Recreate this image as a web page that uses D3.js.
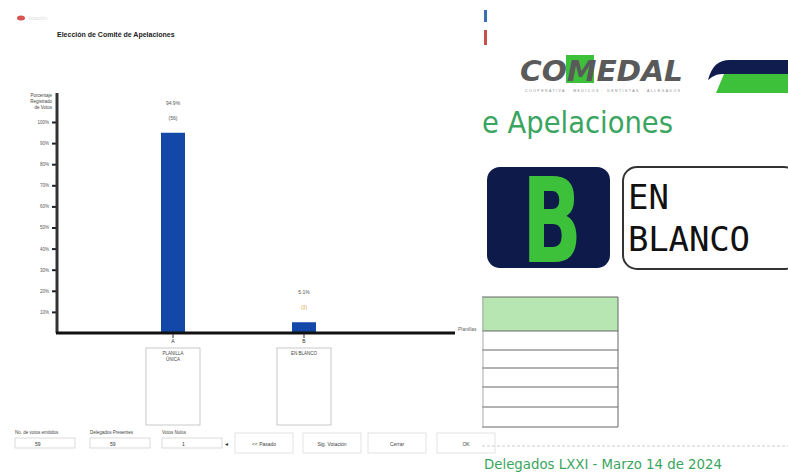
<!DOCTYPE html>
<html><head><meta charset="utf-8">
<script src="https://cdn.jsdelivr.net/npm/d3@7"></script>
<style>html,body{margin:0;padding:0;background:#fff;}svg{display:block;}</style>
</head><body>
<svg id="c" width="788" height="472"></svg>
<script>
const chartTitle = "Elección de Comité de Apelaciones";
const categories = ["A", "B"];
const categoryNames = [["PLANILLA", "ÚNICA"], ["EN BLANCO"]];
const percentages = [94.9, 5.1];
const votes = [56, 3];
const yTicks = [10, 20, 30, 40, 50, 60, 70, 80, 90, 100];
const yAxisTitle = ["Porcentaje", "Registrado", "de Votos"];
const xAxisTitle = "Planillas";
const fieldLabels = ["No. de votos emitidos", "Delegados Presentes", "Votos Nulos"];
const fieldValues = ["59", "59", "1"];
const buttonLabels = ["<< Pasado", "Sig. Votación", "Cerrar", "OK"];
const tableRows = 6;
const footerText = "Delegados LXXI - Marzo 14 de 2024";

const svg = d3.select("#c");
const F = "Liberation Sans, Arial, sans-serif";

// ---- left panel: chart ----
svg.append("ellipse").attr("cx", 21).attr("cy", 18).attr("rx", 4).attr("ry", 2.5).attr("fill", "#d9534f");
svg.append("text").attr("x", 28).attr("y", 20).attr("font-size", 5).attr("fill", "#ddd").attr("font-family", F).text("Votación");
svg.append("text").attr("x", 57).attr("y", 37).attr("font-size", 7).attr("font-weight", "bold")
  .attr("font-family", F).attr("fill", "#222").text(chartTitle);

const y = d3.scaleLinear().domain([0, 100]).range([333, 122]);
const x = d3.scalePoint().domain(categories).range([173, 304]);
const barW = 24;

const yAxis = svg.append("g").attr("transform", "translate(57,0)")
  .call(d3.axisLeft(y).tickValues(yTicks).tickSize(5).tickFormat(d => d + "%"));
yAxis.select(".domain").remove();
yAxis.selectAll(".tick line").attr("stroke", "#222").attr("stroke-width", 2);
yAxis.selectAll(".tick text").attr("font-size", 4.5).attr("fill", "#555").attr("font-family", F);
svg.append("line").attr("x1", 57).attr("x2", 57).attr("y1", 93).attr("y2", 333).attr("stroke", "#333").attr("stroke-width", 3);
yAxisTitle.forEach((t, i) => svg.append("text").attr("x", 52).attr("y", 97 + i * 6).attr("text-anchor", "end")
  .attr("font-size", 4.5).attr("font-family", F).attr("fill", "#444").text(t));

svg.selectAll("rect.bar").data(categories).join("rect").attr("class", "bar")
  .attr("x", d => x(d) - barW / 2).attr("width", barW)
  .attr("y", (d, i) => y(percentages[i])).attr("height", (d, i) => y(0) - y(percentages[i]))
  .attr("fill", "#1448a8");

categories.forEach((c, i) => {
  const top = y(percentages[i]);
  svg.append("text").attr("x", x(c)).attr("y", top - 28).attr("text-anchor", "middle").attr("font-size", 5)
    .attr("font-family", F).attr("fill", "#555").text(percentages[i].toFixed(1) + "%");
  svg.append("text").attr("x", x(c)).attr("y", top - 13).attr("text-anchor", "middle").attr("font-size", 5)
    .attr("font-family", F).attr("fill", i === 0 ? "#555" : "#e0a040").text("(" + votes[i] + ")");
});

svg.append("line").attr("x1", 56).attr("x2", 455).attr("y1", 333).attr("y2", 333).attr("stroke", "#111").attr("stroke-width", 3);
svg.append("text").attr("x", 458).attr("y", 331).attr("font-size", 5).attr("font-family", F).attr("fill", "#666").text(xAxisTitle);

categories.forEach((c, i) => {
  svg.append("line").attr("x1", x(c)).attr("x2", x(c)).attr("y1", 334).attr("y2", 338).attr("stroke", "#333");
  svg.append("text").attr("x", x(c)).attr("y", 343).attr("text-anchor", "middle").attr("font-size", 5)
    .attr("font-family", F).attr("fill", "#333").text(c);
  svg.append("rect").attr("x", x(c) - 27).attr("y", 348).attr("width", 54).attr("height", 77)
    .attr("fill", "none").attr("stroke", "#bbb").attr("stroke-width", 0.8);
  categoryNames[i].forEach((t, k) => svg.append("text").attr("x", x(c)).attr("y", 355 + k * 6).attr("text-anchor", "middle")
    .attr("font-size", 4.5).attr("font-family", F).attr("fill", "#444").text(t));
});

const fx = [15, 90, 162];
fieldLabels.forEach((t, i) => {
  svg.append("text").attr("x", fx[i]).attr("y", 434).attr("font-size", 4.5).attr("font-family", F).attr("fill", "#444").text(t);
  svg.append("rect").attr("x", fx[i]).attr("y", 438).attr("width", 60).attr("height", 10).attr("fill", "none").attr("stroke", "#ccc").attr("stroke-width", 0.7);
  svg.append("text").attr("x", fx[i] + 20).attr("y", 446).attr("font-size", 5).attr("font-family", F).attr("fill", "#333").text(fieldValues[i]);
});
svg.append("text").attr("x", 224).attr("y", 446).attr("font-size", 5).attr("font-family", F).attr("fill", "#333").text("◄");
const bx = [235, 303, 368, 437];
buttonLabels.forEach((t, i) => {
  svg.append("rect").attr("x", bx[i]).attr("y", 433).attr("width", 58).attr("height", 20).attr("fill", "#fff")
    .attr("stroke", "#ddd").attr("stroke-width", 0.8);
  svg.append("text").attr("x", bx[i] + 29).attr("y", 446).attr("text-anchor", "middle").attr("font-size", 5)
    .attr("font-family", F).attr("fill", "#444").text(t);
});

// ---- right panel: slide ----
svg.append("rect").attr("x", 484).attr("y", 10).attr("width", 3).attr("height", 12).attr("fill", "#3a6fb0");
svg.append("rect").attr("x", 484).attr("y", 30).attr("width", 3).attr("height", 15).attr("fill", "#c8504a");

svg.append("rect").attr("x", 566).attr("y", 55).attr("width", 28).attr("height", 28).attr("fill", "#3ec13a");
svg.append("text").attr("x", 520).attr("y", 81).attr("font-size", 29).attr("font-weight", "bold").attr("font-style", "italic")
  .attr("font-family", "DejaVu Sans, sans-serif").attr("fill", "#5a5a5a").attr("textLength", 163).attr("lengthAdjust", "spacingAndGlyphs").text("COMEDAL");
svg.append("text").attr("x", 525).attr("y", 92).attr("font-size", 3.5).attr("font-family", F).attr("fill", "#888")
  .attr("textLength", 155).text("COOPERATIVA · MEDICOS · DENTISTAS · ALLEGADOS");

svg.append("path").attr("d", "M708,80 C712,66 718,60 730,60 L788,60 L788,74 L722,74 C716,74 712,77 708,80 Z").attr("fill", "#0f1c4d");
svg.append("path").attr("d", "M716,93 L724,74 L788,74 L788,93 Z").attr("fill", "#3ec13a");

svg.append("text").attr("x", 482).attr("y", 133).attr("font-size", 30).attr("font-family", "DejaVu Sans Condensed, sans-serif")
  .attr("fill", "#3aa55e").attr("textLength", 191).attr("lengthAdjust", "spacingAndGlyphs").text("e Apelaciones");

svg.append("rect").attr("x", 487).attr("y", 167).attr("width", 123).attr("height", 101).attr("rx", 13).attr("fill", "#0d1a4a");
svg.append("text").attr("x", 522).attr("y", 262).attr("font-size", 118).attr("font-weight", "bold")
  .attr("font-family", "DejaVu Sans, sans-serif").attr("fill", "#3ec13a").attr("textLength", 60).attr("lengthAdjust", "spacingAndGlyphs").text("B");

svg.append("rect").attr("x", 623).attr("y", 167).attr("width", 175).attr("height", 102).attr("rx", 14)
  .attr("fill", "#fff").attr("stroke", "#333").attr("stroke-width", 2);
svg.append("text").attr("x", 628).attr("y", 209).attr("font-size", 34).attr("font-family", "DejaVu Sans Mono, monospace").attr("fill", "#111").text("EN");
svg.append("text").attr("x", 628).attr("y", 251).attr("font-size", 34).attr("font-family", "DejaVu Sans Mono, monospace").attr("fill", "#111")
  .attr("textLength", 122).text("BLANCO");

svg.append("rect").attr("x", 482).attr("y", 297).attr("width", 136).attr("height", 34).attr("fill", "#b8e6b2");
const rowY = [297, 331, 350, 368, 387, 407, 427];
rowY.forEach(v => svg.append("line").attr("x1", 482).attr("x2", 618).attr("y1", v).attr("y2", v).attr("stroke", "#666").attr("stroke-width", 1));
svg.append("line").attr("x1", 618).attr("x2", 618).attr("y1", 297).attr("y2", 427).attr("stroke", "#666");
svg.append("line").attr("x1", 483).attr("x2", 483).attr("y1", 297).attr("y2", 427).attr("stroke", "#aaa");

svg.append("line").attr("x1", 482).attr("x2", 788).attr("y1", 446).attr("y2", 446).attr("stroke", "#ccc").attr("stroke-dasharray", "3,2");
svg.append("text").attr("x", 484).attr("y", 469).attr("font-size", 14).attr("font-family", "DejaVu Sans Condensed, sans-serif")
  .attr("fill", "#3aa55e").attr("textLength", 238).attr("lengthAdjust", "spacingAndGlyphs").text(footerText);
</script>
</body></html>
